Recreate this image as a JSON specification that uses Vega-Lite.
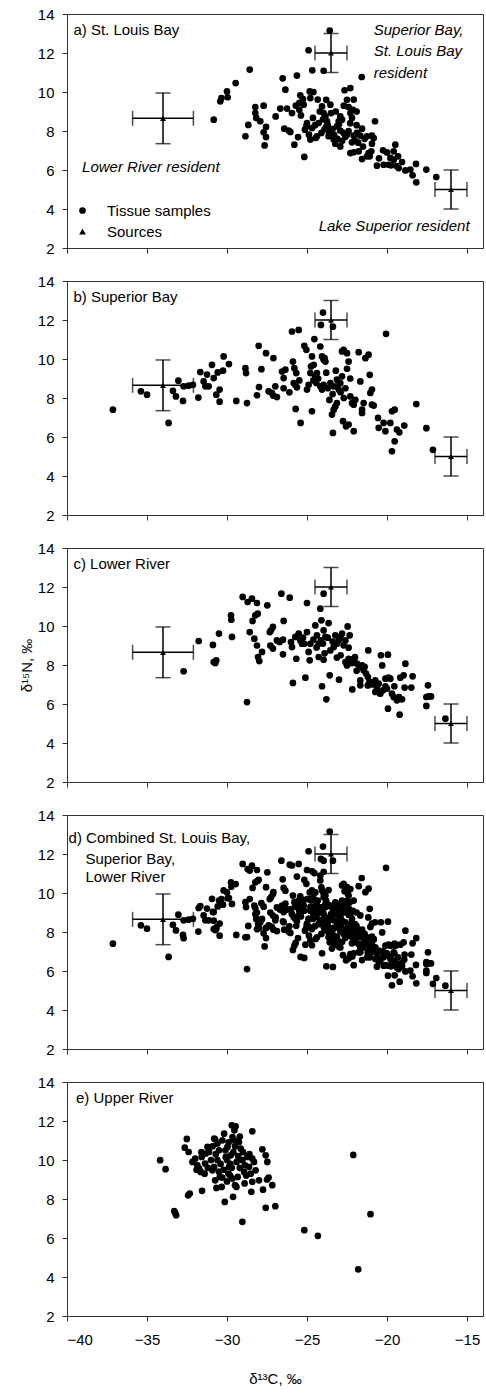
{
"$schema":"https://vega.github.io/schema/vega-lite/v6.json",
"padding":{"left":18,"top":6,"right":2,"bottom":2},
"config":{"font":"Liberation Sans","view":{"stroke":"#333","strokeWidth":1},
"axis":{"grid":false,"domainColor":"#333","tickColor":"#333","labelColor":"#000","labelFontSize":15,"labelFont":"Liberation Sans","tickSize":5,"titleFont":"Liberation Sans","titleFontSize":15,"titleFontWeight":"normal","titleColor":"#000"},
"axisY":{"labelPadding":8,"titlePadding":3},"axisX":{"labelPadding":11,"titlePadding":24}},
"resolve":{"scale":{"shape":"independent"},"legend":{"shape":"independent"}},
"datasets":{
"sources":[{"x":-34,"y":8.65,"xerr":1.9,"yerr":1.3},{"x":-23.5,"y":12,"xerr":1,"yerr":1},{"x":-16,"y":5,"xerr":1,"yerr":1}],
"labels":[{"p":"a","x":-39.6,"y":12.9,"text":"a) St. Louis Bay"},{"p":"b","x":-39.6,"y":12.9,"text":"b) Superior Bay"},{"p":"c","x":-39.6,"y":12.9,"text":"c) Lower River"},{"p":"d","x":-39.9,"y":12.55,"text":"d) Combined St. Louis Bay,"},{"p":"d","x":-38.85,"y":11.5,"text":"Superior Bay,"},{"p":"d","x":-38.85,"y":10.54,"text":"Lower River"},{"p":"e","x":-39.44,"y":12.9,"text":"e) Upper River"}],
"notes":[{"x":-20.83,"y":12.94,"text":"Superior Bay,"},{"x":-20.83,"y":11.83,"text":"St. Louis Bay"},{"x":-20.83,"y":10.72,"text":"resident"},{"x":-39.06,"y":5.88,"text":"Lower River resident"},{"x":-24.27,"y":2.85,"text":"Lake Superior resident"}],
"tissue":[
{"p":"a","x":-30.83,"y":8.58},{"p":"a","x":-30.42,"y":9.52},{"p":"a","x":-30.35,"y":9.69},{"p":"a","x":-30.0,"y":10.03},{"p":"a","x":-29.96,"y":9.73},{"p":"a","x":-29.46,"y":10.46},{"p":"a","x":-28.58,"y":11.15},{"p":"a","x":-28.85,"y":7.73},{"p":"a","x":-28.67,"y":8.31},{"p":"a","x":-28.23,"y":9.23},{"p":"a","x":-28.23,"y":8.92},{"p":"a","x":-28.17,"y":8.67},{"p":"a","x":-27.92,"y":8.5},{"p":"a","x":-27.71,"y":9.3},{"p":"a","x":-27.56,"y":8.21},{"p":"a","x":-27.71,"y":7.93},{"p":"a","x":-27.56,"y":7.69},{"p":"a","x":-27.65,"y":7.26},{"p":"a","x":-26.96,"y":8.75},{"p":"a","x":-26.52,"y":10.7},{"p":"a","x":-26.35,"y":10.12},{"p":"a","x":-26.67,"y":9.15},{"p":"a","x":-26.25,"y":9.15},{"p":"a","x":-26.42,"y":8.12},{"p":"a","x":-26.15,"y":8.02},{"p":"a","x":-26.04,"y":7.95},{"p":"a","x":-25.94,"y":8.92},{"p":"a","x":-25.63,"y":10.84},{"p":"a","x":-25.79,"y":7.3},{"p":"a","x":-25.56,"y":7.69},{"p":"a","x":-25.48,"y":9.44},{"p":"a","x":-25.42,"y":9.83},{"p":"a","x":-25.48,"y":9.09},{"p":"a","x":-25.38,"y":8.8},{"p":"a","x":-25.17,"y":6.67},{"p":"a","x":-25.25,"y":9.64},{"p":"a","x":-25.21,"y":9.35},{"p":"a","x":-25.13,"y":8.07},{"p":"a","x":-25.04,"y":8.24},{"p":"a","x":-25.0,"y":8.41},{"p":"a","x":-24.9,"y":12.14},{"p":"a","x":-24.83,"y":10.03},{"p":"a","x":-24.79,"y":9.69},{"p":"a","x":-24.88,"y":7.81},{"p":"a","x":-24.79,"y":7.56},{"p":"a","x":-24.69,"y":8.15},{"p":"a","x":-24.63,"y":8.67},{"p":"a","x":-24.67,"y":11.11},{"p":"a","x":-24.33,"y":9.61},{"p":"a","x":-24.27,"y":8.41},{"p":"a","x":-24.38,"y":7.73},{"p":"a","x":-24.46,"y":7.64},{"p":"a","x":-23.96,"y":11.09},{"p":"a","x":-24.06,"y":9.26},{"p":"a","x":-23.96,"y":8.92},{"p":"a","x":-23.85,"y":8.75},{"p":"a","x":-23.75,"y":8.5},{"p":"a","x":-23.79,"y":8.24},{"p":"a","x":-23.65,"y":7.98},{"p":"a","x":-23.54,"y":7.9},{"p":"a","x":-23.65,"y":7.73},{"p":"a","x":-23.33,"y":7.56},{"p":"a","x":-23.23,"y":7.35},{"p":"a","x":-23.58,"y":13.15},{"p":"a","x":-23.54,"y":9.35},{"p":"a","x":-23.5,"y":8.92},{"p":"a","x":-22.92,"y":7.21},{"p":"a","x":-23.13,"y":8.24},{"p":"a","x":-22.92,"y":8.02},{"p":"a","x":-22.71,"y":7.9},{"p":"a","x":-22.5,"y":7.81},{"p":"a","x":-22.65,"y":10.09},{"p":"a","x":-22.29,"y":10.2},{"p":"a","x":-22.4,"y":9.23},{"p":"a","x":-22.29,"y":8.92},{"p":"a","x":-22.19,"y":8.67},{"p":"a","x":-22.08,"y":9.61},{"p":"a","x":-22.13,"y":9.09},{"p":"a","x":-22.92,"y":8.75},{"p":"a","x":-22.81,"y":8.58},{"p":"a","x":-23.02,"y":8.5},{"p":"a","x":-22.19,"y":7.42},{"p":"a","x":-22.08,"y":7.76},{"p":"a","x":-21.88,"y":7.9},{"p":"a","x":-21.67,"y":7.76},{"p":"a","x":-21.56,"y":8.12},{"p":"a","x":-22.29,"y":6.87},{"p":"a","x":-22.08,"y":6.91},{"p":"a","x":-21.77,"y":6.96},{"p":"a","x":-21.56,"y":6.56},{"p":"a","x":-21.25,"y":6.7},{"p":"a","x":-21.15,"y":6.87},{"p":"a","x":-21.08,"y":6.7},{"p":"a","x":-20.98,"y":6.96},{"p":"a","x":-20.94,"y":7.35},{"p":"a","x":-20.83,"y":7.64},{"p":"a","x":-21.58,"y":10.77},{"p":"a","x":-21.25,"y":7.73},{"p":"a","x":-20.94,"y":7.76},{"p":"a","x":-20.75,"y":8.5},{"p":"a","x":-20.63,"y":6.22},{"p":"a","x":-20.25,"y":7.01},{"p":"a","x":-20.21,"y":6.27},{"p":"a","x":-19.9,"y":6.27},{"p":"a","x":-19.75,"y":6.24},{"p":"a","x":-19.79,"y":6.62},{"p":"a","x":-19.58,"y":6.96},{"p":"a","x":-19.48,"y":7.3},{"p":"a","x":-19.58,"y":6.53},{"p":"a","x":-19.27,"y":6.1},{"p":"a","x":-19.31,"y":6.7},{"p":"a","x":-19.06,"y":6.41},{"p":"a","x":-18.85,"y":5.98},{"p":"a","x":-18.54,"y":6.02},{"p":"a","x":-18.4,"y":5.73},{"p":"a","x":-18.19,"y":6.31},{"p":"a","x":-18.17,"y":5.37},{"p":"a","x":-17.54,"y":6.02},{"p":"a","x":-16.92,"y":5.64},
{"p":"a","x":-24.2,"y":9.0},{"p":"a","x":-24.0,"y":8.6},{"p":"a","x":-23.9,"y":8.1},{"p":"a","x":-23.7,"y":8.3},{"p":"a","x":-23.4,"y":8.1},{"p":"a","x":-23.3,"y":7.8},{"p":"a","x":-23.1,"y":7.6},{"p":"a","x":-22.8,"y":7.5},{"p":"a","x":-22.6,"y":7.7},{"p":"a","x":-22.4,"y":8.0},{"p":"a","x":-22.0,"y":7.5},{"p":"a","x":-21.8,"y":7.4},{"p":"a","x":-21.4,"y":7.6},{"p":"a","x":-21.9,"y":8.3},{"p":"a","x":-21.5,"y":7.2},{"p":"a","x":-23.8,"y":9.6},{"p":"a","x":-23.2,"y":9.0},{"p":"a","x":-22.7,"y":9.3},{"p":"a","x":-22.5,"y":9.6},{"p":"a","x":-21.9,"y":9.0},{"p":"a","x":-23.0,"y":8.35},{"p":"a","x":-22.3,"y":8.4},{"p":"a","x":-24.5,"y":8.3},{"p":"a","x":-24.1,"y":7.9},{"p":"a","x":-20.5,"y":6.6},{"p":"a","x":-20.0,"y":6.9},{"p":"a","x":-19.4,"y":6.2},{"p":"a","x":-25.7,"y":9.3},{"p":"a","x":-24.6,"y":10.0},
{"p":"b","x":-37.13,"y":7.4},{"p":"b","x":-35.38,"y":8.34},{"p":"b","x":-35.0,"y":8.17},{"p":"b","x":-33.65,"y":6.72},{"p":"b","x":-33.38,"y":8.37},{"p":"b","x":-33.19,"y":8.08},{"p":"b","x":-33.04,"y":8.89},{"p":"b","x":-32.75,"y":7.85},{"p":"b","x":-32.71,"y":8.6},{"p":"b","x":-32.4,"y":8.63},{"p":"b","x":-32.13,"y":8.68},{"p":"b","x":-31.79,"y":8.02},{"p":"b","x":-31.67,"y":9.33},{"p":"b","x":-31.46,"y":8.85},{"p":"b","x":-31.35,"y":8.6},{"p":"b","x":-31.25,"y":9.2},{"p":"b","x":-31.15,"y":8.6},{"p":"b","x":-30.94,"y":9.7},{"p":"b","x":-30.83,"y":9.02},{"p":"b","x":-30.67,"y":8.17},{"p":"b","x":-30.58,"y":9.31},{"p":"b","x":-30.46,"y":8.43},{"p":"b","x":-30.46,"y":7.81},{"p":"b","x":-30.25,"y":9.4},{"p":"b","x":-30.21,"y":10.13},{"p":"b","x":-29.88,"y":9.74},{"p":"b","x":-29.42,"y":7.85},{"p":"b","x":-28.85,"y":9.53},{"p":"b","x":-28.81,"y":9.28},{"p":"b","x":-28.75,"y":7.74},{"p":"b","x":-28.13,"y":8.14},{"p":"b","x":-28.02,"y":10.68},{"p":"b","x":-28.0,"y":8.56},{"p":"b","x":-27.85,"y":9.48},{"p":"b","x":-27.56,"y":10.3},{"p":"b","x":-27.4,"y":8.34},{"p":"b","x":-27.2,"y":8.26},{"p":"b","x":-27.1,"y":8.12},{"p":"b","x":-27.1,"y":10.05},{"p":"b","x":-26.98,"y":8.6},{"p":"b","x":-26.88,"y":8.05},{"p":"b","x":-26.56,"y":9.36},{"p":"b","x":-26.46,"y":9.02},{"p":"b","x":-26.46,"y":8.5},{"p":"b","x":-26.35,"y":9.45},{"p":"b","x":-26.1,"y":8.29},{"p":"b","x":-25.94,"y":11.41},{"p":"b","x":-25.52,"y":11.49},{"p":"b","x":-25.88,"y":9.87},{"p":"b","x":-25.79,"y":9.53},{"p":"b","x":-25.73,"y":8.68},{"p":"b","x":-25.67,"y":9.28},{"p":"b","x":-25.83,"y":8.77},{"p":"b","x":-25.71,"y":7.44},{"p":"b","x":-25.63,"y":8.55},{"p":"b","x":-25.48,"y":8.9},{"p":"b","x":-25.4,"y":6.72},{"p":"b","x":-25.17,"y":10.68},{"p":"b","x":-25.04,"y":10.47},{"p":"b","x":-25.0,"y":8.43},{"p":"b","x":-24.9,"y":8.68},{"p":"b","x":-24.79,"y":9.28},{"p":"b","x":-24.75,"y":9.62},{"p":"b","x":-24.69,"y":7.32},{"p":"b","x":-24.69,"y":10.13},{"p":"b","x":-24.58,"y":9.7},{"p":"b","x":-24.54,"y":11.02},{"p":"b","x":-24.48,"y":9.11},{"p":"b","x":-24.42,"y":8.77},{"p":"b","x":-24.38,"y":9.28},{"p":"b","x":-24.17,"y":10.64},{"p":"b","x":-24.13,"y":11.75},{"p":"b","x":-24.0,"y":12.38},{"p":"b","x":-24.06,"y":10.13},{"p":"b","x":-23.96,"y":9.96},{"p":"b","x":-23.85,"y":9.87},{"p":"b","x":-24.17,"y":8.6},{"p":"b","x":-24.06,"y":8.43},{"p":"b","x":-23.96,"y":8.68},{"p":"b","x":-23.38,"y":11.66},{"p":"b","x":-23.44,"y":7.15},{"p":"b","x":-23.38,"y":6.21},{"p":"b","x":-23.33,"y":7.4},{"p":"b","x":-23.23,"y":7.57},{"p":"b","x":-23.13,"y":7.74},{"p":"b","x":-23.54,"y":8.77},{"p":"b","x":-23.33,"y":8.6},{"p":"b","x":-23.13,"y":8.94},{"p":"b","x":-23.02,"y":8.43},{"p":"b","x":-22.92,"y":8.77},{"p":"b","x":-22.81,"y":9.11},{"p":"b","x":-22.81,"y":10.39},{"p":"b","x":-22.71,"y":10.47},{"p":"b","x":-22.5,"y":10.3},{"p":"b","x":-22.4,"y":9.87},{"p":"b","x":-22.75,"y":6.81},{"p":"b","x":-22.56,"y":6.55},{"p":"b","x":-22.4,"y":6.64},{"p":"b","x":-22.08,"y":6.3},{"p":"b","x":-22.29,"y":8.08},{"p":"b","x":-22.19,"y":7.74},{"p":"b","x":-22.08,"y":7.66},{"p":"b","x":-21.98,"y":7.91},{"p":"b","x":-21.77,"y":10.35},{"p":"b","x":-21.67,"y":8.85},{"p":"b","x":-21.56,"y":7.23},{"p":"b","x":-21.56,"y":7.4},{"p":"b","x":-21.46,"y":7.74},{"p":"b","x":-21.35,"y":10.04},{"p":"b","x":-21.15,"y":10.22},{"p":"b","x":-21.08,"y":9.19},{"p":"b","x":-21.04,"y":8.26},{"p":"b","x":-20.94,"y":8.43},{"p":"b","x":-20.83,"y":7.61},{"p":"b","x":-20.94,"y":7.66},{"p":"b","x":-20.56,"y":6.98},{"p":"b","x":-20.52,"y":6.47},{"p":"b","x":-20.21,"y":6.72},{"p":"b","x":-20.1,"y":6.3},{"p":"b","x":-20.06,"y":11.29},{"p":"b","x":-19.79,"y":6.72},{"p":"b","x":-19.69,"y":7.32},{"p":"b","x":-19.52,"y":7.4},{"p":"b","x":-19.69,"y":5.27},{"p":"b","x":-19.52,"y":5.78},{"p":"b","x":-19.38,"y":6.38},{"p":"b","x":-19.23,"y":6.24},{"p":"b","x":-18.92,"y":6.59},{"p":"b","x":-18.17,"y":7.69},{"p":"b","x":-17.54,"y":6.45},{"p":"b","x":-17.13,"y":5.34},
{"p":"b","x":-23.7,"y":8.5},{"p":"b","x":-23.4,"y":8.2},{"p":"b","x":-23.1,"y":8.6},{"p":"b","x":-22.9,"y":8.3},{"p":"b","x":-22.6,"y":8.5},{"p":"b","x":-22.7,"y":8.0},{"p":"b","x":-23.6,"y":7.9},{"p":"b","x":-23.2,"y":9.4},{"p":"b","x":-22.5,"y":9.5},{"p":"b","x":-22.3,"y":9.0},{"p":"b","x":-24.3,"y":9.0},{"p":"b","x":-24.6,"y":8.9},{"p":"b","x":-23.9,"y":10.05},{"p":"b","x":-23.8,"y":9.3},
{"p":"c","x":-32.71,"y":7.68},{"p":"c","x":-31.77,"y":9.23},{"p":"c","x":-30.88,"y":9.03},{"p":"c","x":-30.83,"y":8.15},{"p":"c","x":-30.73,"y":8.1},{"p":"c","x":-30.67,"y":8.24},{"p":"c","x":-30.5,"y":9.61},{"p":"c","x":-29.75,"y":10.55},{"p":"c","x":-29.73,"y":10.32},{"p":"c","x":-29.69,"y":9.44},{"p":"c","x":-29.02,"y":11.49},{"p":"c","x":-28.75,"y":6.1},{"p":"c","x":-28.71,"y":11.23},{"p":"c","x":-28.44,"y":11.4},{"p":"c","x":-28.13,"y":11.18},{"p":"c","x":-28.58,"y":9.69},{"p":"c","x":-28.4,"y":10.26},{"p":"c","x":-28.23,"y":10.55},{"p":"c","x":-28.08,"y":10.63},{"p":"c","x":-28.29,"y":9.35},{"p":"c","x":-28.13,"y":9.0},{"p":"c","x":-28.06,"y":8.41},{"p":"c","x":-27.98,"y":8.2},{"p":"c","x":-27.81,"y":8.67},{"p":"c","x":-27.48,"y":11.06},{"p":"c","x":-27.33,"y":9.69},{"p":"c","x":-27.25,"y":9.78},{"p":"c","x":-27.13,"y":9.95},{"p":"c","x":-27.29,"y":9.0},{"p":"c","x":-27.13,"y":8.84},{"p":"c","x":-26.88,"y":9.26},{"p":"c","x":-26.71,"y":9.18},{"p":"c","x":-26.6,"y":11.66},{"p":"c","x":-26.5,"y":8.55},{"p":"c","x":-26.46,"y":10.26},{"p":"c","x":-26.5,"y":9.3},{"p":"c","x":-26.08,"y":11.45},{"p":"c","x":-26.0,"y":9.18},{"p":"c","x":-25.94,"y":8.92},{"p":"c","x":-25.88,"y":7.08},{"p":"c","x":-25.67,"y":8.32},{"p":"c","x":-25.73,"y":9.44},{"p":"c","x":-25.52,"y":9.61},{"p":"c","x":-25.42,"y":9.26},{"p":"c","x":-25.31,"y":9.09},{"p":"c","x":-25.17,"y":9.09},{"p":"c","x":-25.0,"y":11.18},{"p":"c","x":-25.1,"y":7.35},{"p":"c","x":-25.0,"y":9.69},{"p":"c","x":-24.9,"y":8.67},{"p":"c","x":-24.83,"y":8.24},{"p":"c","x":-24.79,"y":9.09},{"p":"c","x":-24.48,"y":10.03},{"p":"c","x":-24.38,"y":9.52},{"p":"c","x":-24.27,"y":9.09},{"p":"c","x":-24.13,"y":9.26},{"p":"c","x":-24.17,"y":10.89},{"p":"c","x":-24.1,"y":10.29},{"p":"c","x":-23.96,"y":9.78},{"p":"c","x":-23.85,"y":9.44},{"p":"c","x":-23.96,"y":11.66},{"p":"c","x":-24.06,"y":6.91},{"p":"c","x":-24.27,"y":8.41},{"p":"c","x":-23.96,"y":8.27},{"p":"c","x":-23.79,"y":6.24},{"p":"c","x":-23.65,"y":10.15},{"p":"c","x":-23.58,"y":7.47},{"p":"c","x":-23.54,"y":8.75},{"p":"c","x":-23.33,"y":8.92},{"p":"c","x":-23.23,"y":9.52},{"p":"c","x":-23.13,"y":9.09},{"p":"c","x":-23.02,"y":9.26},{"p":"c","x":-22.92,"y":9.44},{"p":"c","x":-23.0,"y":7.25},{"p":"c","x":-23.13,"y":8.38},{"p":"c","x":-22.81,"y":9.61},{"p":"c","x":-22.71,"y":9.01},{"p":"c","x":-22.6,"y":9.26},{"p":"c","x":-22.46,"y":9.98},{"p":"c","x":-22.33,"y":9.52},{"p":"c","x":-22.4,"y":8.89},{"p":"c","x":-22.6,"y":8.15},{"p":"c","x":-22.5,"y":7.98},{"p":"c","x":-22.4,"y":8.32},{"p":"c","x":-22.17,"y":6.75},{"p":"c","x":-22.08,"y":8.32},{"p":"c","x":-21.88,"y":8.07},{"p":"c","x":-21.71,"y":7.9},{"p":"c","x":-21.56,"y":7.98},{"p":"c","x":-21.46,"y":7.73},{"p":"c","x":-21.31,"y":7.56},{"p":"c","x":-21.19,"y":7.38},{"p":"c","x":-21.1,"y":7.13},{"p":"c","x":-21.67,"y":6.96},{"p":"c","x":-21.67,"y":7.21},{"p":"c","x":-21.17,"y":8.75},{"p":"c","x":-20.73,"y":7.21},{"p":"c","x":-20.63,"y":6.87},{"p":"c","x":-20.73,"y":6.62},{"p":"c","x":-20.52,"y":7.04},{"p":"c","x":-20.42,"y":6.53},{"p":"c","x":-20.25,"y":6.7},{"p":"c","x":-20.38,"y":8.5},{"p":"c","x":-20.3,"y":7.98},{"p":"c","x":-19.94,"y":8.53},{"p":"c","x":-20.1,"y":7.3},{"p":"c","x":-19.9,"y":7.35},{"p":"c","x":-19.79,"y":7.3},{"p":"c","x":-19.94,"y":5.76},{"p":"c","x":-20.0,"y":6.79},{"p":"c","x":-19.69,"y":6.53},{"p":"c","x":-19.58,"y":6.36},{"p":"c","x":-19.38,"y":6.19},{"p":"c","x":-19.25,"y":6.36},{"p":"c","x":-19.06,"y":6.24},{"p":"c","x":-19.54,"y":6.91},{"p":"c","x":-19.21,"y":5.45},{"p":"c","x":-19.17,"y":7.35},{"p":"c","x":-18.96,"y":7.47},{"p":"c","x":-18.85,"y":8.07},{"p":"c","x":-18.9,"y":6.84},{"p":"c","x":-18.48,"y":6.84},{"p":"c","x":-18.4,"y":7.42},{"p":"c","x":-17.44,"y":6.96},{"p":"c","x":-17.54,"y":6.36},{"p":"c","x":-17.4,"y":6.39},{"p":"c","x":-17.25,"y":6.39},{"p":"c","x":-17.54,"y":5.9},{"p":"c","x":-16.35,"y":5.25},
{"p":"c","x":-24.6,"y":9.3},{"p":"c","x":-24.0,"y":9.1},{"p":"c","x":-23.7,"y":9.4},{"p":"c","x":-23.4,"y":9.2},{"p":"c","x":-22.9,"y":8.5},{"p":"c","x":-22.2,"y":8.1},{"p":"c","x":-21.9,"y":7.7},{"p":"c","x":-21.4,"y":7.9},{"p":"c","x":-20.9,"y":7.0},{"p":"c","x":-20.5,"y":6.6},{"p":"c","x":-20.1,"y":6.9},{"p":"c","x":-24.4,"y":8.9},{"p":"c","x":-25.25,"y":9.4},{"p":"c","x":-23.9,"y":8.6},{"p":"c","x":-22.0,"y":8.4},{"p":"c","x":-21.2,"y":6.95},
{"p":"e","x":-34.18,"y":9.99},{"p":"e","x":-33.84,"y":9.53},{"p":"e","x":-33.3,"y":7.38},{"p":"e","x":-33.24,"y":7.29},{"p":"e","x":-33.18,"y":7.17},{"p":"e","x":-32.64,"y":10.63},{"p":"e","x":-32.51,"y":11.08},{"p":"e","x":-32.4,"y":10.41},{"p":"e","x":-32.43,"y":8.19},{"p":"e","x":-32.33,"y":8.28},{"p":"e","x":-32.16,"y":9.9},{"p":"e","x":-31.99,"y":10.07},{"p":"e","x":-31.85,"y":9.73},{"p":"e","x":-31.74,"y":9.56},{"p":"e","x":-31.64,"y":9.39},{"p":"e","x":-31.56,"y":8.42},{"p":"e","x":-31.58,"y":10.16},{"p":"e","x":-31.33,"y":10.33},{"p":"e","x":-31.22,"y":10.67},{"p":"e","x":-31.12,"y":10.41},{"p":"e","x":-31.37,"y":9.82},{"p":"e","x":-30.91,"y":9.47},{"p":"e","x":-30.81,"y":9.65},{"p":"e","x":-30.74,"y":8.96},{"p":"e","x":-30.74,"y":11.06},{"p":"e","x":-30.66,"y":8.57},{"p":"e","x":-30.6,"y":10.84},{"p":"e","x":-30.5,"y":10.5},{"p":"e","x":-30.45,"y":9.13},{"p":"e","x":-30.33,"y":8.62},{"p":"e","x":-30.29,"y":11.01},{"p":"e","x":-30.18,"y":11.35},{"p":"e","x":-30.14,"y":7.85},{"p":"e","x":-30.08,"y":10.16},{"p":"e","x":-29.97,"y":10.67},{"p":"e","x":-29.91,"y":9.3},{"p":"e","x":-29.87,"y":9.65},{"p":"e","x":-29.77,"y":10.24},{"p":"e","x":-29.7,"y":11.78},{"p":"e","x":-29.66,"y":11.18},{"p":"e","x":-29.56,"y":11.01},{"p":"e","x":-29.46,"y":11.73},{"p":"e","x":-29.54,"y":11.52},{"p":"e","x":-29.62,"y":8.11},{"p":"e","x":-29.66,"y":9.05},{"p":"e","x":-29.5,"y":8.71},{"p":"e","x":-29.41,"y":8.62},{"p":"e","x":-29.33,"y":9.13},{"p":"e","x":-29.25,"y":10.92},{"p":"e","x":-29.14,"y":10.58},{"p":"e","x":-29.04,"y":9.99},{"p":"e","x":-28.93,"y":9.39},{"p":"e","x":-28.87,"y":9.73},{"p":"e","x":-28.73,"y":10.16},{"p":"e","x":-28.62,"y":9.65},{"p":"e","x":-28.52,"y":9.3},{"p":"e","x":-28.42,"y":10.07},{"p":"e","x":-28.31,"y":9.9},{"p":"e","x":-28.21,"y":9.47},{"p":"e","x":-29.04,"y":6.83},{"p":"e","x":-28.48,"y":8.37},{"p":"e","x":-28.42,"y":8.88},{"p":"e","x":-28.42,"y":11.47},{"p":"e","x":-28.0,"y":8.96},{"p":"e","x":-27.79,"y":10.55},{"p":"e","x":-27.75,"y":8.48},{"p":"e","x":-27.58,"y":10.24},{"p":"e","x":-27.48,"y":9.9},{"p":"e","x":-27.58,"y":7.55},{"p":"e","x":-27.5,"y":9.0},{"p":"e","x":-27.4,"y":9.1},{"p":"e","x":-27.17,"y":8.71},{"p":"e","x":-26.98,"y":7.63},{"p":"e","x":-25.17,"y":6.4},{"p":"e","x":-24.32,"y":6.11},{"p":"e","x":-22.11,"y":10.26},{"p":"e","x":-21.8,"y":4.39},{"p":"e","x":-21.03,"y":7.22},
{"p":"e","x":-31.0,"y":10.0},{"p":"e","x":-30.7,"y":10.3},{"p":"e","x":-30.4,"y":9.8},{"p":"e","x":-30.2,"y":9.5},{"p":"e","x":-30.0,"y":10.0},{"p":"e","x":-29.8,"y":9.8},{"p":"e","x":-29.6,"y":10.4},{"p":"e","x":-29.4,"y":9.9},{"p":"e","x":-29.2,"y":9.6},{"p":"e","x":-30.5,"y":9.4},{"p":"e","x":-30.1,"y":10.5},{"p":"e","x":-29.9,"y":10.9},{"p":"e","x":-29.5,"y":10.7},{"p":"e","x":-30.9,"y":10.7},{"p":"e","x":-31.6,"y":10.4},{"p":"e","x":-31.9,"y":9.5},{"p":"e","x":-30.3,"y":9.1},{"p":"e","x":-29.8,"y":9.2},{"p":"e","x":-29.0,"y":10.4},{"p":"e","x":-28.8,"y":9.2},{"p":"e","x":-28.6,"y":10.3},{"p":"e","x":-30.6,"y":10.0},{"p":"e","x":-29.3,"y":10.2},{"p":"e","x":-31.2,"y":9.6},{"p":"e","x":-29.7,"y":9.6},{"p":"e","x":-30.0,"y":8.9},{"p":"e","x":-28.9,"y":8.8},{"p":"e","x":-31.4,"y":9.3},{"p":"e","x":-30.8,"y":11.1},{"p":"e","x":-29.2,"y":11.2}
]},
"spacing":16,
"vconcat":[
{"width":416,"height":234,
"encoding":{"x":{"field":"x","type":"quantitative","scale":{"domain":[-40,-14],"nice":false,"zero":false},"axis":{"values":[-40,-35,-30,-25,-20,-15],"labels":false,"title":null}},
"y":{"field":"y","type":"quantitative","scale":{"domain":[2,14],"nice":false,"zero":false},"axis":{"values":[2,4,6,8,10,12,14],"title":null}}},
"layer":[
{"data":{"name":"sources"},"mark":{"type":"errorbar","ticks":{"size":15},"color":"black","thickness":1.5},"encoding":{"xError":{"field":"xerr"}}},
{"data":{"name":"sources"},"mark":{"type":"errorbar","ticks":{"size":15},"color":"black","thickness":1.5},"encoding":{"yError":{"field":"yerr"}}},
{"data":{"name":"tissue"},"transform":[{"filter":"datum.p === 'a'"}],"mark":{"type":"point","filled":true,"size":45,"opacity":1,"color":"black"},
"encoding":{"shape":{"datum":"Tissue samples","type":"nominal","scale":{"domain":["Tissue samples","Sources"],"range":["circle","triangle-up"]},
"legend":{"orient":"bottom-left","title":null,"offset":8,"labelFontSize":15,"labelColor":"black","labelOffset":17,"symbolSize":45,"symbolFillColor":"black","symbolStrokeColor":"black","symbolOpacity":1,"rowPadding":5,"padding":0}}}},
{"data":{"name":"sources"},"mark":{"type":"point","filled":true,"size":35,"opacity":1,"color":"black"},"encoding":{"shape":{"datum":"Sources","type":"nominal"}}},
{"data":{"name":"labels"},"transform":[{"filter":"datum.p === 'a'"}],"mark":{"type":"text","align":"left","baseline":"alphabetic","fontSize":15,"color":"black"},"encoding":{"text":{"field":"text"}}},
{"data":{"name":"notes"},"mark":{"type":"text","align":"left","baseline":"alphabetic","fontSize":15,"fontStyle":"italic","color":"black"},"encoding":{"text":{"field":"text"}}}
]},
{"width":416,"height":234,
"encoding":{"x":{"field":"x","type":"quantitative","scale":{"domain":[-40,-14],"nice":false,"zero":false},"axis":{"values":[-40,-35,-30,-25,-20,-15],"labels":false,"title":null}},
"y":{"field":"y","type":"quantitative","scale":{"domain":[2,14],"nice":false,"zero":false},"axis":{"values":[2,4,6,8,10,12,14],"title":null}}},
"layer":[
{"data":{"name":"sources"},"mark":{"type":"errorbar","ticks":{"size":15},"color":"black","thickness":1.5},"encoding":{"xError":{"field":"xerr"}}},
{"data":{"name":"sources"},"mark":{"type":"errorbar","ticks":{"size":15},"color":"black","thickness":1.5},"encoding":{"yError":{"field":"yerr"}}},
{"data":{"name":"tissue"},"transform":[{"filter":"datum.p === 'b'"}],"mark":{"type":"point","filled":true,"shape":"circle","size":45,"opacity":1,"color":"black"}},
{"data":{"name":"sources"},"mark":{"type":"point","filled":true,"shape":"triangle-up","size":35,"opacity":1,"color":"black"}},
{"data":{"name":"labels"},"transform":[{"filter":"datum.p === 'b'"}],"mark":{"type":"text","align":"left","baseline":"alphabetic","fontSize":15,"color":"black"},"encoding":{"text":{"field":"text"}}}
]},
{"width":416,"height":234,
"encoding":{"x":{"field":"x","type":"quantitative","scale":{"domain":[-40,-14],"nice":false,"zero":false},"axis":{"values":[-40,-35,-30,-25,-20,-15],"labels":false,"title":null}},
"y":{"field":"y","type":"quantitative","scale":{"domain":[2,14],"nice":false,"zero":false},"axis":{"values":[2,4,6,8,10,12,14],"title":"δ¹⁵N, ‰"}}},
"layer":[
{"data":{"name":"sources"},"mark":{"type":"errorbar","ticks":{"size":15},"color":"black","thickness":1.5},"encoding":{"xError":{"field":"xerr"}}},
{"data":{"name":"sources"},"mark":{"type":"errorbar","ticks":{"size":15},"color":"black","thickness":1.5},"encoding":{"yError":{"field":"yerr"}}},
{"data":{"name":"tissue"},"transform":[{"filter":"datum.p === 'c'"}],"mark":{"type":"point","filled":true,"shape":"circle","size":45,"opacity":1,"color":"black"}},
{"data":{"name":"sources"},"mark":{"type":"point","filled":true,"shape":"triangle-up","size":35,"opacity":1,"color":"black"}},
{"data":{"name":"labels"},"transform":[{"filter":"datum.p === 'c'"}],"mark":{"type":"text","align":"left","baseline":"alphabetic","fontSize":15,"color":"black"},"encoding":{"text":{"field":"text"}}}
]},
{"width":416,"height":234,
"encoding":{"x":{"field":"x","type":"quantitative","scale":{"domain":[-40,-14],"nice":false,"zero":false},"axis":{"values":[-40,-35,-30,-25,-20,-15],"labels":false,"title":null}},
"y":{"field":"y","type":"quantitative","scale":{"domain":[2,14],"nice":false,"zero":false},"axis":{"values":[2,4,6,8,10,12,14],"title":null}}},
"layer":[
{"data":{"name":"sources"},"mark":{"type":"errorbar","ticks":{"size":15},"color":"black","thickness":1.5},"encoding":{"xError":{"field":"xerr"}}},
{"data":{"name":"sources"},"mark":{"type":"errorbar","ticks":{"size":15},"color":"black","thickness":1.5},"encoding":{"yError":{"field":"yerr"}}},
{"data":{"name":"tissue"},"transform":[{"filter":"datum.p !== 'e'"}],"mark":{"type":"point","filled":true,"shape":"circle","size":45,"opacity":1,"color":"black"}},
{"data":{"name":"sources"},"mark":{"type":"point","filled":true,"shape":"triangle-up","size":35,"opacity":1,"color":"black"}},
{"data":{"name":"labels"},"transform":[{"filter":"datum.p === 'd'"}],"mark":{"type":"text","align":"left","baseline":"alphabetic","fontSize":15,"color":"black"},"encoding":{"text":{"field":"text"}}}
]},
{"width":416,"height":234,
"encoding":{"x":{"field":"x","type":"quantitative","scale":{"domain":[-40,-14],"nice":false,"zero":false},"axis":{"values":[-40,-35,-30,-25,-20,-15],"title":"δ¹³C, ‰"}},
"y":{"field":"y","type":"quantitative","scale":{"domain":[2,14],"nice":false,"zero":false},"axis":{"values":[2,4,6,8,10,12,14],"title":null}}},
"layer":[
{"data":{"name":"tissue"},"transform":[{"filter":"datum.p === 'e'"}],"mark":{"type":"point","filled":true,"shape":"circle","size":45,"opacity":1,"color":"black"}},
{"data":{"name":"labels"},"transform":[{"filter":"datum.p === 'e'"}],"mark":{"type":"text","align":"left","baseline":"alphabetic","fontSize":15,"color":"black"},"encoding":{"text":{"field":"text"}}}
]}
]}
